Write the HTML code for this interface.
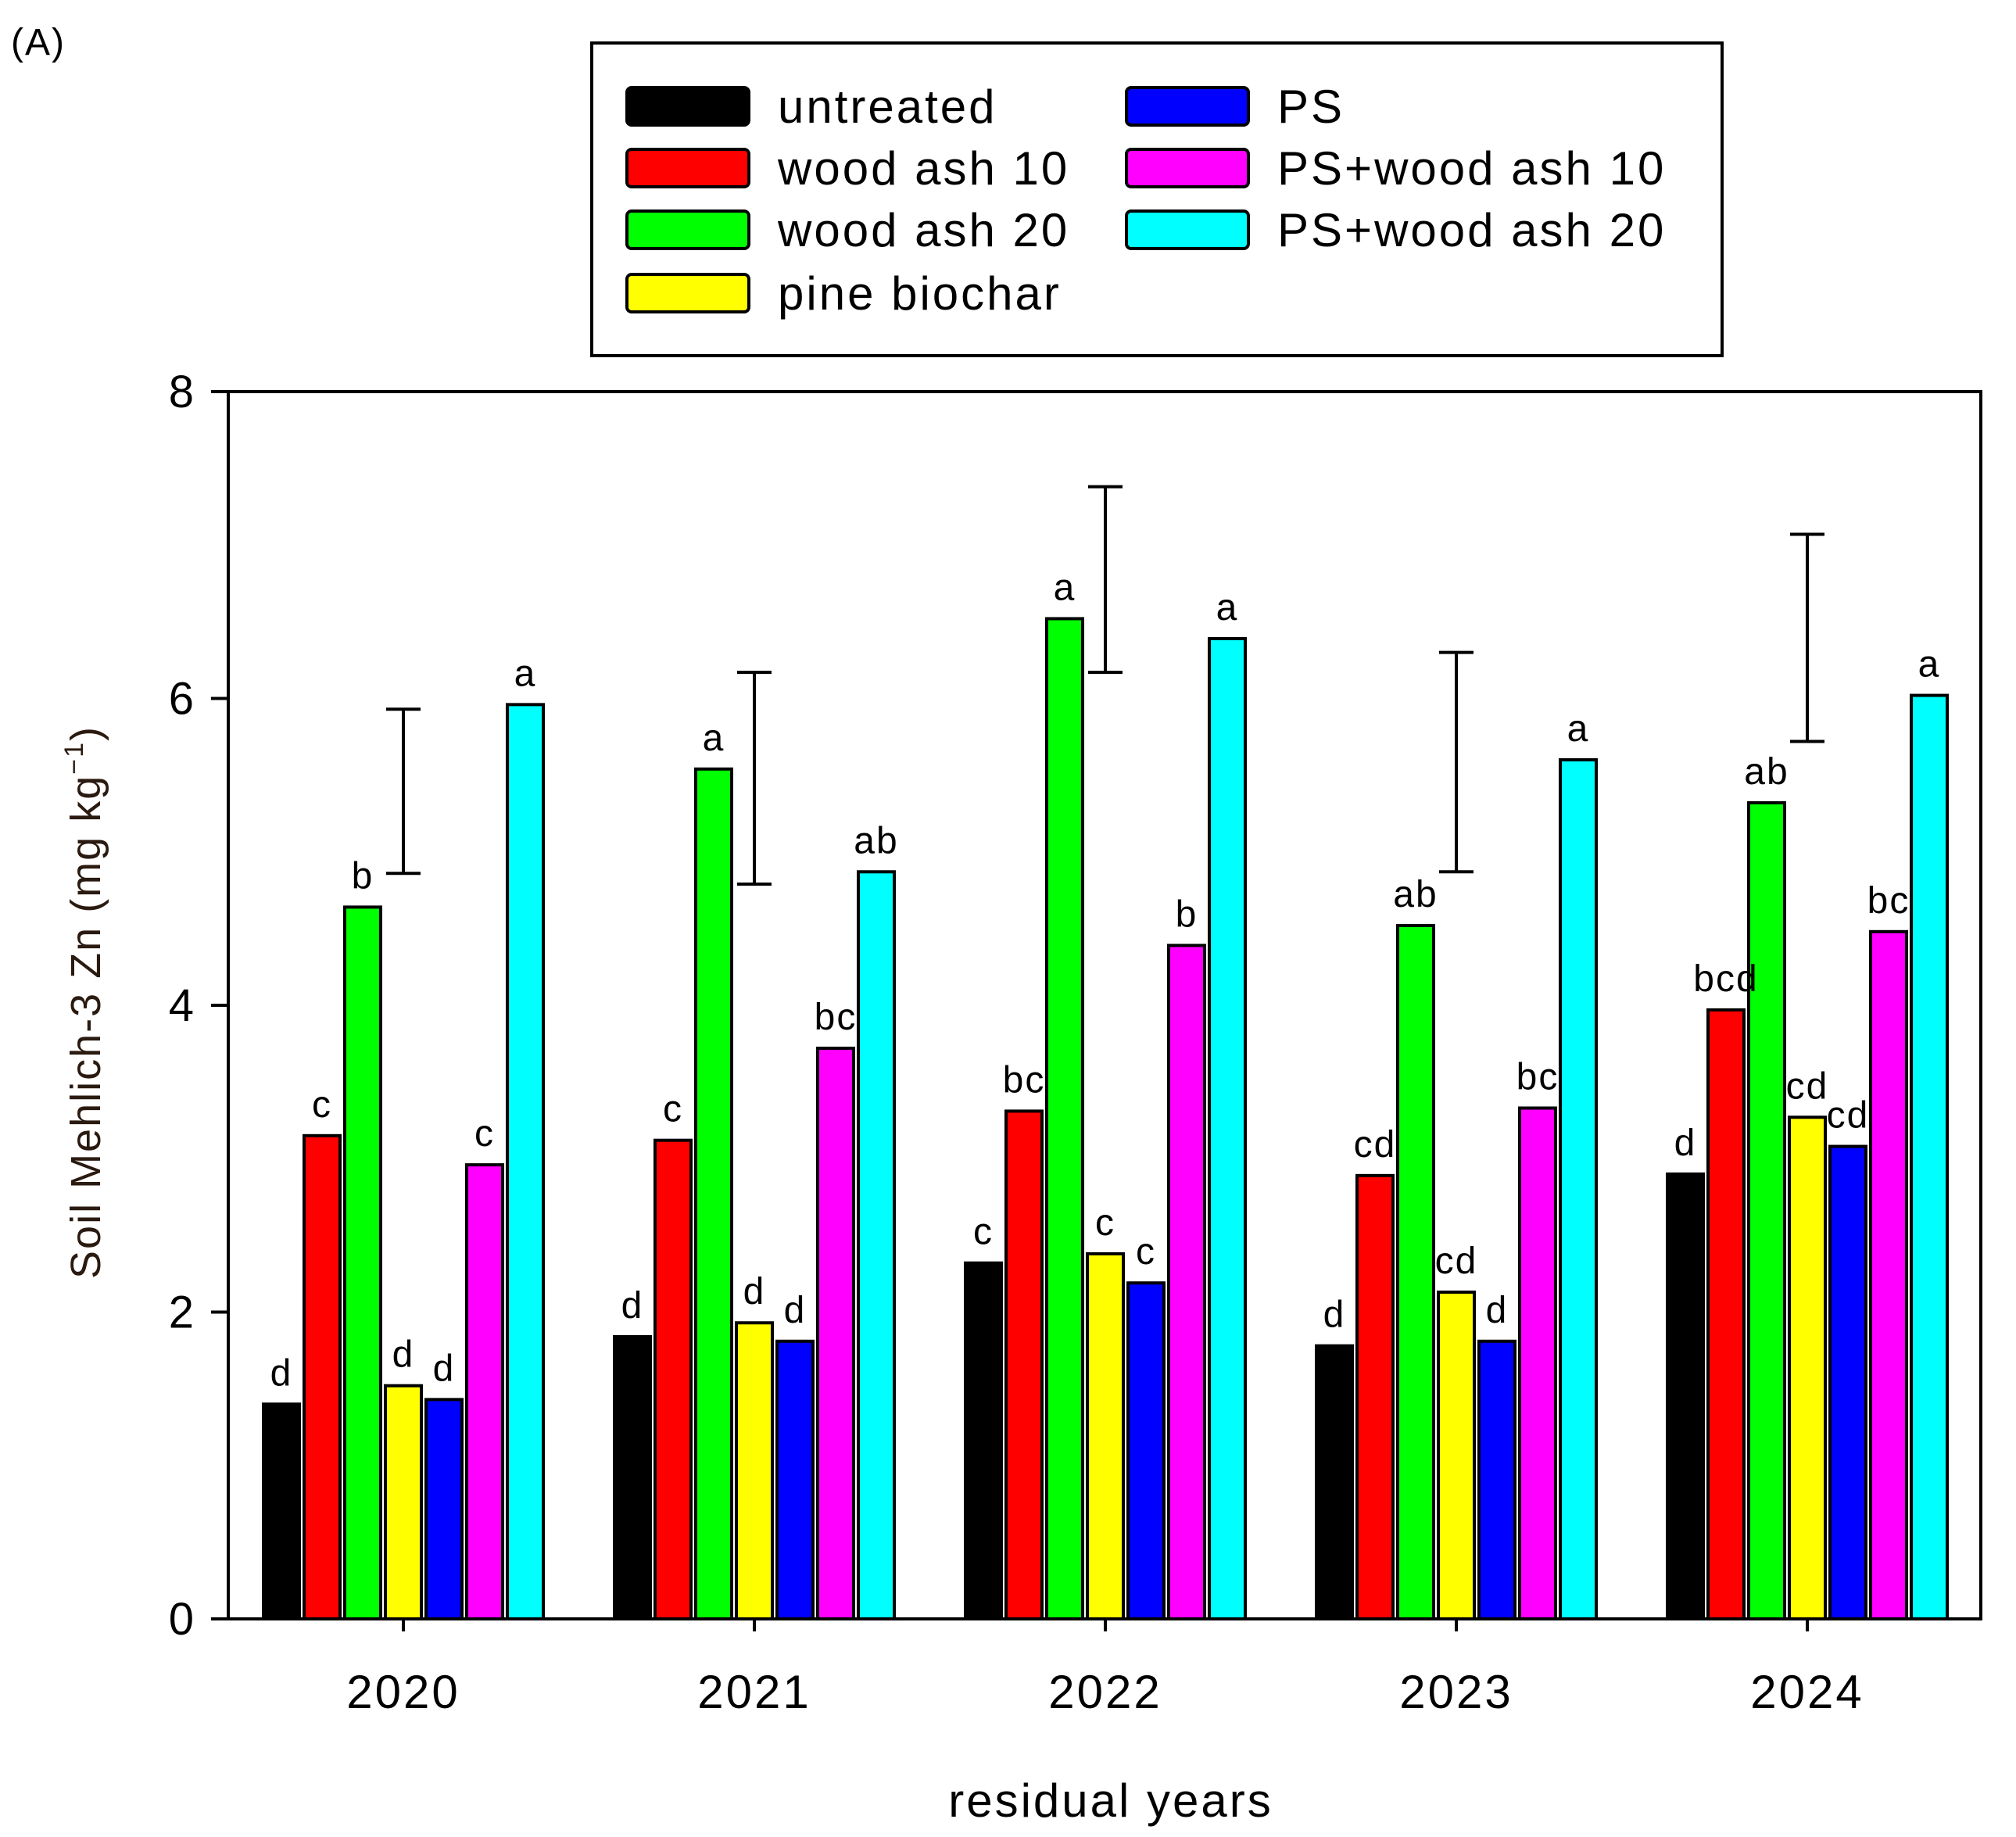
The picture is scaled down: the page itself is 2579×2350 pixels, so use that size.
<!DOCTYPE html>
<html><head><meta charset="utf-8"><style>
html,body{margin:0;padding:0;background:#fff;}
svg{display:block;font-family:"Liberation Sans",Arial,sans-serif;}
</style></head><body>
<svg id="chart" width="2579" height="2350" viewBox="0 0 2579 2350" xmlns="http://www.w3.org/2000/svg">
<text x="14" y="70" font-size="48" letter-spacing="2">(A)</text>
<g id="legend">
<rect x="757" y="55" width="1446" height="400" fill="#fff" stroke="#000" stroke-width="4"/>
</g>
<g id="axes"></g>
<g id="bars"></g>
<g id="labels"></g>
<text x="1421" y="2324" font-size="60" letter-spacing="3" text-anchor="middle">residual years</text>
<text transform="translate(128,1282) rotate(-90)" font-size="54" letter-spacing="2" text-anchor="middle" fill="#2a1a10">Soil Mehlich-3 Zn (mg kg<tspan dy="-22" font-size="34">−1</tspan><tspan dy="22">)</tspan></text>
</svg>
<script>
const years = ["2020","2021","2022","2023","2024"];
const seriesNames = ["untreated","wood ash 10","wood ash 20","pine biochar","PS","PS+wood ash 10","PS+wood ash 20"];
const seriesColors = ["#000000","#ff0000","#00ff00","#ffff00","#0000ff","#ff00ff","#00ffff"];
const untreated = [1.40,1.84,2.32,1.78,2.90];
const woodAsh10 = [3.15,3.12,3.31,2.89,3.97];
const woodAsh20 = [4.64,5.54,6.52,4.52,5.32];
const pineBiochar = [1.52,1.93,2.38,2.13,3.27];
const ps = [1.43,1.81,2.19,1.81,3.08];
const psWoodAsh10 = [2.96,3.72,4.39,3.33,4.48];
const psWoodAsh20 = [5.96,4.87,6.39,5.60,6.02];
const letters2020 = ["d","c","b","d","d","c","a"];
const letters2021 = ["d","c","a","d","d","bc","ab"];
const letters2022 = ["c","bc","a","c","c","b","a"];
const letters2023 = ["d","cd","ab","cd","d","bc","a"];
const letters2024 = ["d","bcd","ab","cd","cd","bc","a"];
const errLow = [4.86,4.79,6.17,4.87,5.72];
const errHigh = [5.93,6.17,7.38,6.30,7.07];
const yTicks = [0,2,4,6,8];

const series = [untreated,woodAsh10,woodAsh20,pineBiochar,ps,psWoodAsh10,psWoodAsh20];
const letters = [letters2020,letters2021,letters2022,letters2023,letters2024];
const NS="http://www.w3.org/2000/svg";
const X0=292, X1=2534, Y0=2071, Y1=501;
const yScale=v=>Y0-(v/8)*(Y0-Y1);
const groupX=i=>516+i*449;
const pitch=52, bw=46;
function mk(tag,attrs,parent){const e=document.createElementNS(NS,tag);for(const k in attrs)e.setAttribute(k,attrs[k]);parent.appendChild(e);return e;}
const axes=document.getElementById('axes'), barsG=document.getElementById('bars'), labG=document.getElementById('labels'), leg=document.getElementById('legend');

let fr=mk('path',{d:`M${X0},${Y1} H${X1} V${Y0} H${X0} Z`,fill:'none',stroke:'#000','stroke-width':4},axes);


yTicks.forEach(t=>{
  const y=yScale(t);
  const l=mk('line',{x1:X0-22,x2:X0,y1:y,y2:y,stroke:'#000','stroke-width':4},axes);
  
  
  const tx=mk('text',{x:X0-44,y:y+20,'font-size':58,'text-anchor':'end'},axes);
  tx.textContent=t;
  
  
});
years.forEach((yr,i)=>{
  const x=groupX(i);
  const l=mk('line',{x1:x,x2:x,y1:Y0,y2:Y0+16,stroke:'#000','stroke-width':4},axes);
  
  
  const tx=mk('text',{x:x,y:2185,'font-size':60,'letter-spacing':3,'text-anchor':'middle'},axes);
  tx.textContent=yr;
  
  
  series.forEach((s,j)=>{
    const cx=x+(j-3)*pitch;
    const y=yScale(s[i]);
    const r=mk('rect',{x:cx-bw/2,y:y,width:bw,height:Y0-y,fill:seriesColors[j],stroke:'#000','stroke-width':4},barsG);
    
    
    const lt=mk('text',{x:cx,y:y-24,'font-size':48,'letter-spacing':2,'text-anchor':'middle'},labG);
    lt.textContent=letters[i][j];
    
    
  });
  const ylo=yScale(errLow[i]), yhi=yScale(errHigh[i]);
  const e=mk('path',{d:`M${x},${ylo} V${yhi} M${x-22},${ylo} H${x+22} M${x-22},${yhi} H${x+22}`,stroke:'#000','stroke-width':4,fill:'none'},barsG);
  
  
});
const legPos=[[802,136],[802,215],[802,294],[802,375],[1441,136],[1441,215],[1441,294]];
const legOrder=[0,1,2,3,4,5,6];
legOrder.forEach((j,k)=>{
  const [lx,ly]=legPos[k];
  const r=mk('rect',{x:lx,y:ly-24,width:156,height:48,rx:6,fill:seriesColors[j],stroke:'#000','stroke-width':4},leg);
  
  
  const t=mk('text',{x:lx+193,y:ly+21,'font-size':60,'letter-spacing':3},leg);
  t.textContent=seriesNames[j];
  
  
});
</script>
</body></html>
